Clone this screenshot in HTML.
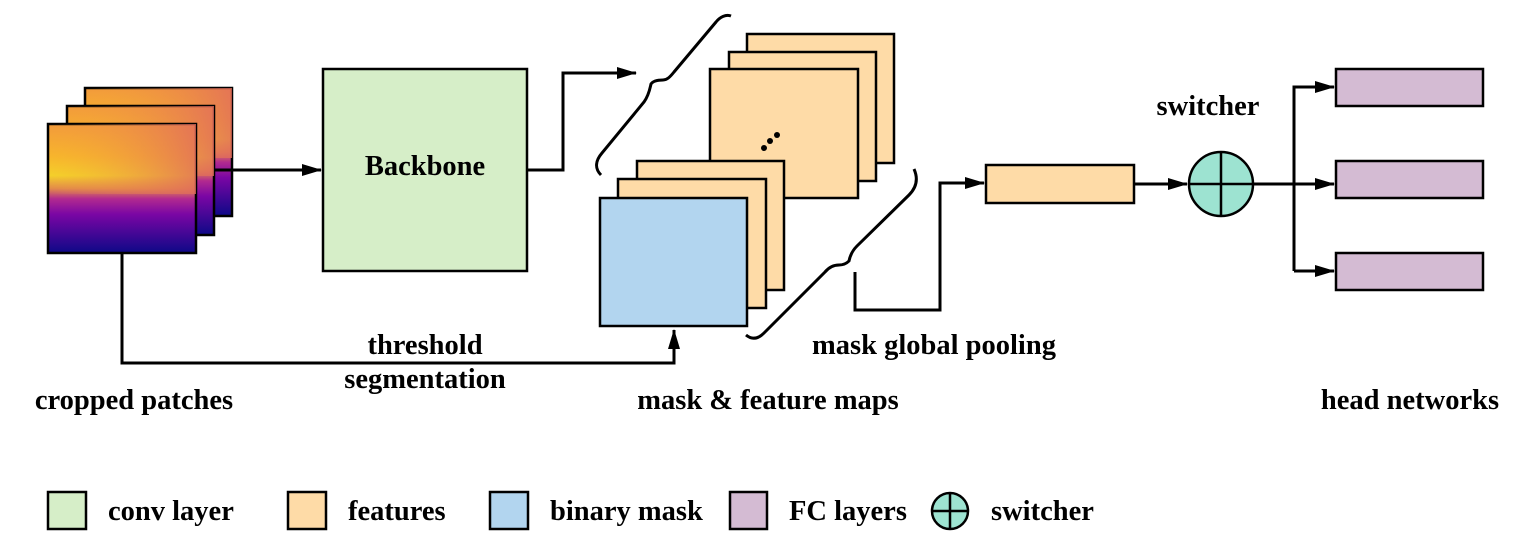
<!DOCTYPE html>
<html><head><meta charset="utf-8"><style>body{margin:0;background:#fff}svg{display:block}text{font-family:"Liberation Serif",serif;font-weight:bold;font-size:28.5px;fill:#000}</style></head><body>
<svg width="1522" height="551" viewBox="0 0 1522 551" xmlns="http://www.w3.org/2000/svg">
<defs>
<marker id="b" markerWidth="20" markerHeight="12" refX="19" refY="6" orient="auto" markerUnits="userSpaceOnUse" viewBox="0 0 20 12"><path d="M0,0 L20,6 L0,12z" fill="#000"/></marker>
<linearGradient id="g" x1="0" y1="0" x2="0" y2="1">
<stop offset="0" stop-color="#f29a3c"/><stop offset="0.25" stop-color="#f7b52c"/><stop offset="0.4" stop-color="#f4d02a"/><stop offset="0.5" stop-color="#e28a4a"/><stop offset="0.58" stop-color="#b22a8f"/><stop offset="0.7" stop-color="#7a06a4"/><stop offset="1" stop-color="#0d0887"/></linearGradient>
<linearGradient id="h" x1="0" y1="0" x2="1" y2="0"><stop offset="0" stop-color="#f5a33a" stop-opacity="0"/><stop offset="1" stop-color="#e16b5c" stop-opacity="0.8"/></linearGradient>
</defs>
<g stroke="#000" stroke-width="2.5">
<rect x="85" y="88" width="147" height="128" fill="url(#g)"/><rect x="85" y="88" width="147" height="70" fill="url(#h)" stroke="none"/>
<rect x="67" y="106" width="147" height="129" fill="url(#g)"/><rect x="67" y="106" width="147" height="70" fill="url(#h)" stroke="none"/>
<rect x="48" y="124" width="148" height="129" fill="url(#g)"/><rect x="48" y="124" width="148" height="70" fill="url(#h)" stroke="none"/>
<rect x="323" y="69" width="204" height="202" fill="#d6eec8"/>
<rect x="747" y="34" width="147" height="129" fill="#fedba7"/>
<rect x="729" y="52" width="147" height="129" fill="#fedba7"/>
<rect x="710" y="69" width="148" height="129" fill="#fedba7"/>
<rect x="637" y="161" width="147" height="129" fill="#fedba7"/>
<rect x="618" y="179" width="148" height="129" fill="#fedba7"/>
<rect x="600" y="198" width="147" height="128" fill="#b2d5ef"/>
<rect x="986" y="165" width="148" height="38" fill="#fedba7"/>
<rect x="1336" y="69" width="147" height="37" fill="#d4bbd3"/>
<rect x="1336" y="161" width="147" height="37" fill="#d4bbd3"/>
<rect x="1336" y="253" width="147" height="37" fill="#d4bbd3"/>
<circle cx="1221" cy="184" r="32" fill="#9de3d1"/>
<path d="M1189,184H1253M1221,152V216" fill="none"/>
</g>
<g fill="#000"><circle cx="764" cy="148" r="3"/><circle cx="770" cy="141" r="3"/><circle cx="777" cy="135" r="3"/></g>
<g fill="none" stroke="#000" stroke-width="3">
<path d="M214,170H321" marker-end="url(#b)"/>
<path d="M527,170H563V73H636" marker-end="url(#b)"/>
<path d="M122,253V363H674V330" marker-end="url(#b)"/>
<path d="M855,272V310H940V183H984" marker-end="url(#b)"/>
<path d="M1134,184H1187" marker-end="url(#b)"/>
<path d="M1253,184H1334"  marker-end="url(#b)"/>
<path d="M1294,271V87H1334" marker-end="url(#b)"/>
<path d="M1294,271H1334" marker-end="url(#b)"/>
<path d="M601,175C594,168 596,160 602,153L644,102C649,95 650,88 651,84C653,81 657,80 663,80C667,80 670,77 674,72L716,22C720,17 726,14 731,16"/>
<path d="M746,335C752,340 758,339 764,333L825,272C830,266 835,265 839,265C843,265 846,264 849,261C850,256 852,251 857,246L909,195C917,187 918,178 914,169"/>
</g>
<text x="425" y="175" text-anchor="middle">Backbone</text>
<text x="134" y="409" text-anchor="middle">cropped patches</text>
<text x="425" y="354" text-anchor="middle">threshold</text>
<text x="425" y="388" text-anchor="middle">segmentation</text>
<text x="768" y="409" text-anchor="middle">mask &amp; feature maps</text>
<text x="934" y="354" text-anchor="middle">mask global pooling</text>
<text x="1208" y="115" text-anchor="middle">switcher</text>
<text x="1410" y="409" text-anchor="middle">head networks</text>
<g stroke="#000" stroke-width="2.5">
<rect x="48" y="492" width="38" height="37" fill="#d6eec8"/>
<rect x="288" y="492" width="38" height="37" fill="#fedba7"/>
<rect x="490" y="492" width="38" height="37" fill="#b2d5ef"/>
<rect x="730" y="492" width="37" height="37" fill="#d4bbd3"/>
<circle cx="950" cy="511" r="18" fill="#9de3d1"/>
<path d="M932,511H968M950,493V529" fill="none"/>
</g>
<text x="108" y="520">conv layer</text>
<text x="348" y="520">features</text>
<text x="550" y="520">binary mask</text>
<text x="789" y="520">FC layers</text>
<text x="991" y="520">switcher</text>
</svg>
</body></html>
